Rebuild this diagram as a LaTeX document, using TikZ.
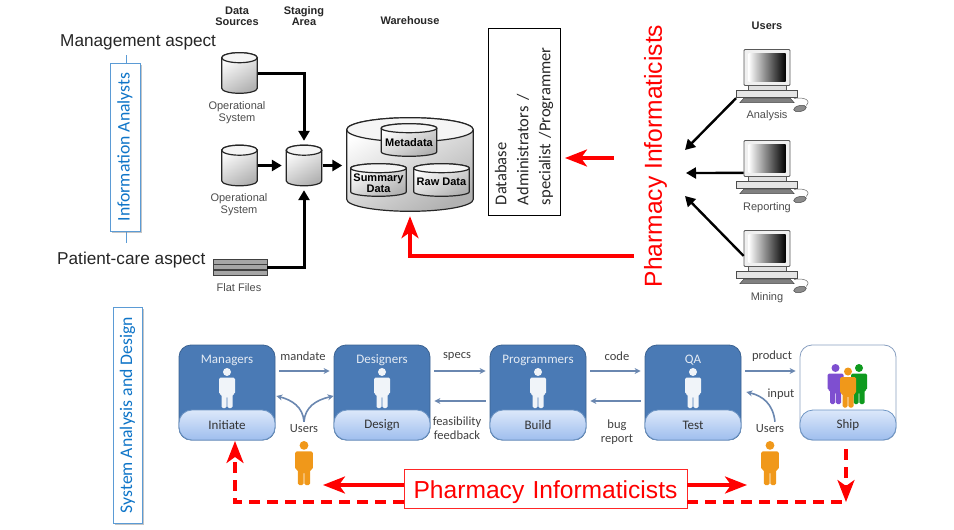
\documentclass[tikz,border=0pt]{standalone}
\usepackage{fontspec}
\setmainfont{Liberation Sans}
\newfontfamily\calib{Carlito}
\usetikzlibrary{positioning,calc,arrows.meta,shadows}
\newcommand{\fsz}[1]{\fontsize{#1}{#1}\selectfont}
\definecolor{procblue}{HTML}{4A7AB5}
\definecolor{flowblue}{HTML}{6A87B0}
\definecolor{tagblue}{HTML}{0F75C8}
\definecolor{tagline}{HTML}{5B9BD5}
\definecolor{useramber}{HTML}{F0981A}
\definecolor{uservio}{HTML}{7E4FD0}
\definecolor{usergrn}{HTML}{0E9A1E}
\definecolor{pillhi}{HTML}{DCE8FA}
\definecolor{pilllo}{HTML}{9FBEEE}
\tikzset{
  heading/.style={font=\fsz{11}\bfseries,align=center,inner sep=0pt,text=black!85},
  caption/.style={font=\fsz{11},align=center,inner sep=0pt,text=black!70},
  aspectlabel/.style={font=\fsz{17.2},inner sep=0pt,text=black!85},
  barrel/.style n args={3}{inner sep=0pt,
    minimum width=#1pt,minimum height=#2pt,
    path picture={
      \pgfmathsetmacro{\rx}{#1/2-.7}
      \pgfmathsetmacro{\yt}{-#2/2+.7+#3}
      \pgfmathsetmacro{\yb}{#2/2-.7-#3}
      \begin{scope}[shift={(path picture bounding box.center)}]
        \draw[draw=black!85,line width=1.2pt,top color=white,bottom color=black!30,shading angle=30]
          (-\rx,\yt) -- (-\rx,\yb) arc (180:360:\rx pt and #3pt) -- (\rx,\yt)
          arc (0:180:\rx pt and #3pt) -- cycle;
        \draw[draw=black!85,line width=1.2pt,fill=black!4] (0,\yt) ellipse (\rx pt and #3pt);
      \end{scope}
    }},
  srccyl/.style={barrel={37}{42}{5}},
  innercyl/.style={barrel={57}{34}{4.5}},
  celltext/.style={heading,text=black},
  flatbar/.style={draw=black!75,fill=black!35,line width=.8pt,inner sep=0pt,
    minimum width=54pt,minimum height=4.5pt},
  tagbox/.style={draw=tagline,fill=white,line width=1pt,rotate=90,inner sep=0pt,
    font=\calib\fsz{17.7},text=tagblue,drop shadow={shadow xshift=2pt,shadow yshift=-2pt,fill=black!45}},
  tagrule/.style={draw=tagline,line width=1pt},
  flow/.style={-{Triangle[length=10pt,width=11pt]},line width=3pt,black},
  stageflow/.style={flow,shorten >=3.5pt},
  userflow/.style={flow,line width=2.4pt},
  redtip/.style={-{Stealth[length=22pt,width=17pt,inset=6pt]}},
  redflow/.style={redtip,line width=3.3pt,red},
  reddash/.style={red,line width=3.3pt,dash pattern=on 11pt off 7pt},
  proc/.style={draw=procblue!80!black,fill=procblue,rounded corners=12pt,line width=.8pt,
    minimum width=96pt,minimum height=95pt,inner sep=0pt},
  shipbox/.style={proc,fill=white,draw=flowblue!80},
  pill/.style={draw=procblue!80,top color=pillhi,bottom color=pilllo,rounded corners=13pt,line width=.8pt,
    minimum width=96pt,minimum height=30pt,inner sep=0pt,font=\calib\fsz{13},text=black!80},
  role/.style={font=\calib\fsz{13},text=white!85!procblue,inner sep=0pt},
  note/.style={font=\calib\fsz{12.5},align=center,inner sep=0pt,text=black!75},
  stepflow/.style={-{Stealth[length=6pt,width=6pt]},line width=1.6pt,flowblue},
  pics/person/.style={code={
    \fill[#1] (0,4) circle (4pt);
    \fill[#1,rounded corners=1.5pt] (-8,9.5) -- (8,9.5) -- (8,26) -- (5.5,26) -- (5.5,40)
      -- (.4,40) -- (.4,28) -- (-.4,28) -- (-.4,40) -- (-5.5,40) -- (-5.5,26) -- (-8,26) -- cycle;
  }},
  pics/workstation/.style={code={
    \node (-monitor) [draw=black!65,fill=black!6,line width=.8pt,rounded corners=1pt,inner sep=0pt,
      minimum width=46pt,minimum height=36pt] at (23,18) {};
    \node (-screen) [left color=white,right color=black,inner sep=0pt,
      minimum width=37pt,minimum height=28pt] at (23,18) {};
    \draw[black!65,fill=black!12,line width=.7pt] (4,36) rectangle (42,41);
    \node (-base) [draw=black!70,fill=black!10,line width=.8pt,inner sep=0pt,
      minimum width=61pt,minimum height=7.5pt] at (23,44.5) {};
    \fill[black!50,draw=black!70,line width=.5pt] (-4,53) -- (50,53) -- (46,48.5) -- (0,48.5) -- cycle;
    \fill[black!45,draw=black!70,line width=.5pt,rotate around={12:(56,59)}] (56,59) ellipse (6.5pt and 3pt);
    \draw[black!60,line width=.5pt] (50,49) .. controls (60,47) and (68,51) .. (62,56);
  }}
}

\begin{document}
\begin{tikzpicture}[x=1pt,y=-1pt]
  \useasboundingbox (0,0) rectangle (954,530);
  % left tags
  \coordinate (infotop) at (126,55);
  \coordinate (infobot) at (126,243);
  \draw[tagrule] (infotop) -- (infobot);
  \node (info) [tagbox,minimum width=168pt,minimum height=30pt] at (125,147) {Information Analysts};
  \node (sysdes) [tagbox,minimum width=216pt,minimum height=29pt] at (127.5,415) {System Analysis and Design};
  \node (mgmt) [aspectlabel,anchor=base west] at (60,46) {Management aspect};
  \node (care) [aspectlabel,anchor=base west] at (57,264) {Patient-care aspect};

  % warehouse part
  \node (hsrc) [heading] at (237,16) {Data\\Sources};
  \node (hstg) [heading] at (304,16) {Staging\\Area};
  \node (hwh) [heading] at (410,21) {Warehouse};
  \node (husr) [heading] at (767,26) {Users};
  \node (op1) [srccyl] at (239.5,73) {};
  \node (op2) [srccyl] at (239.5,165.5) {};
  \node (stage) [srccyl] at (304,165.5) {};
  \node (wh) [barrel={128}{95}{12}] at (410,164.5) {};
  \node (meta) [innercyl] at (409,140) {};
  \node (summ) [innercyl] at (378.5,180) {};
  \node (raw) [innercyl] at (441.5,180) {};
  \node (metat) [celltext] at (409,143) {Metadata};
  \node (summt) [celltext] at (378.5,183.5) {Summary\\Data};
  \node (rawt) [celltext] at (441.5,182) {Raw Data};
  \node (capa) [caption] at (237,112.5) {Operational\\[1pt]System};
  \node (capb) [caption] at (239,204.5) {Operational\\[1pt]System};
  \node (flatb) [flatbar] at (240,262) {};
  \node (flatm) [flatbar] at (240,267) {};
  \node (flatc) [flatbar] at (240,273) {};
  \node (capc) [caption] at (239,288) {Flat Files};
  \draw[stageflow] (op1.east) -| (stage.north);
  \draw[stageflow] (op2.east) -- (stage.west);
  \draw[stageflow] (stage.east) -- (wh.west |- stage.east);
  \draw[stageflow] (flatm.east) -| (stage.south);

  % database people
  \node (dba) [draw=black,fill=white,line width=.8pt,rotate=90,font=\calib\fsz{16.5},
    align=left,text width=167pt,inner xsep=10pt,inner ysep=0pt,minimum height=72pt,
    text=black!85] at (524,121.5) {Database\\[5.5pt]Administrators /\\[5.5pt]specialist /Programmer};
  \node (pharmv) [rotate=90,font=\fsz{24.6},text=red,inner sep=0pt] at (655.5,156) {Pharmacy Informaticists};
  \coordinate (dbaout) at (614,158);
  \coordinate (dbatip) at (565,158);
  \coordinate (whout) at (634,256);
  \draw[redflow] (dbaout) -- (dbatip);
  \draw[redflow,shorten >=4pt] (whout) -| (wh.south);

  % users
  \pic (ana) at (744,49.5) {workstation};
  \pic (rep) at (744,140.5) {workstation};
  \pic (min) at (744,230.5) {workstation};
  \node (capd) [caption] at (767,115.5) {Analysis};
  \node (cape) [caption] at (767,207.5) {Reporting};
  \node (capf) [caption] at (767,297.5) {Mining};
  \coordinate (huba) at (685,150);
  \coordinate (hubb) at (686,173);
  \coordinate (hubc) at (685,196);
  \draw[userflow] (ana-base.south west) -- (huba);
  \draw[userflow] ([yshift=4pt]rep-monitor.south west) -- (hubb);
  \draw[userflow] ([yshift=11pt]min-monitor.south west) -- (hubc);

  % process row
  \foreach \nm/\xx/\who/\what in {mgr/227/Managers/Initiate,des/382/Designers/Design,
      prg/538/Programmers/Build,qa/693/QA/Test} {
    \node (\nm) [proc] at (\xx,392.5) {};
    \node (\nm-pill) [pill] at (\xx,425) {\what};
    \node (\nm-role) [role] at (\xx,360) {\who};
    \pic at (\xx,368) {person=white!92!procblue};
  }
  \node (ship) [shipbox] at (848,392.5) {};
  \pic at (835.5,364) {person=uservio};
  \pic at (859,364) {person=usergrn};
  \pic at (848,367.5) {person=useramber};
  \node (ship-pill) [pill] at (848,425) {Ship};

  \draw[stepflow] ([yshift=21.5pt,xshift=4pt]mgr.east) -- ([yshift=21.5pt,xshift=-4pt]des.west);
  \draw[stepflow] ([yshift=21.5pt,xshift=4pt]des.east) -- ([yshift=21.5pt,xshift=-4pt]prg.west);
  \draw[stepflow] ([yshift=21.5pt,xshift=4pt]prg.east) -- ([yshift=21.5pt,xshift=-4pt]qa.west);
  \draw[stepflow] ([yshift=21.5pt,xshift=4pt]qa.east) -- ([yshift=21.5pt,xshift=-4pt]ship.west);
  \draw[stepflow] ([yshift=-8.5pt,xshift=-4pt]prg.west) -- ([yshift=-8.5pt,xshift=4pt]des.east);
  \draw[stepflow] ([yshift=-8.5pt,xshift=-4pt]qa.west) -- ([yshift=-8.5pt,xshift=4pt]prg.east);
  \node (lmandate) [note] at (303,356) {mandate};
  \node (lspecs) [note] at (457,356) {specs};
  \node (lcode) [note] at (617,356) {code};
  \node (lproduct) [note] at (772,356) {product};
  \node (linput) [note] at (781,394) {input};
  \node (lfeas) [note] at (457,428) {feasibility\\[2pt]feedback};
  \node (lbug) [note] at (617,432) {bug\\[2pt]report};
  \node (usra) [note] at (304,429) {Users};
  \node (usrb) [note] at (770,429) {Users};
  \pic[scale=1.1] at (304,441) {person=useramber};
  \pic[scale=1.1] at (770,441) {person=useramber};
  \draw[stepflow] ([yshift=3pt]usra.north) .. controls (303,407) and (292,400) .. ([xshift=1pt]mgr.east |- 0,396);
  \draw[stepflow] ([yshift=3pt]usra.north) .. controls (305,407) and (316,400) .. (des.west |- 0,396);
  \draw[stepflow] ([xshift=5pt,yshift=3pt]usrb.north) .. controls (773,404) and (763,396) .. ([xshift=5pt]qa.east |- 0,392);

  % bottom banner
  \coordinate (leftdash) at (235,502);
  \coordinate (rightdash) at (846,502);
  \coordinate (shipdrop) at (846,449);
  \coordinate (usrltip) at (323,485);
  \coordinate (usrrtip) at (747,485);
  \coordinate (lefttip) at (235,441);
  \node (pharmh) [draw=red!85,fill=white,line width=.8pt,font=\fsz{24.6},text=red,inner sep=0pt,
    text height=22pt,text depth=3pt,text width=283pt,align=center,minimum height=39pt] at (545.5,488.5) {Pharmacy Informaticists};
  \draw[reddash,redtip] (pharmh.west |- leftdash) -- (leftdash) -- (lefttip);
  \draw[reddash] (pharmh.east |- rightdash) -- (rightdash);
  \draw[reddash,redtip] (shipdrop) -- (rightdash);
  \draw[redflow] (pharmh.west |- usrltip) -- (usrltip);
  \draw[redflow] (pharmh.east |- usrrtip) -- (usrrtip);
\end{tikzpicture}
\end{document}
